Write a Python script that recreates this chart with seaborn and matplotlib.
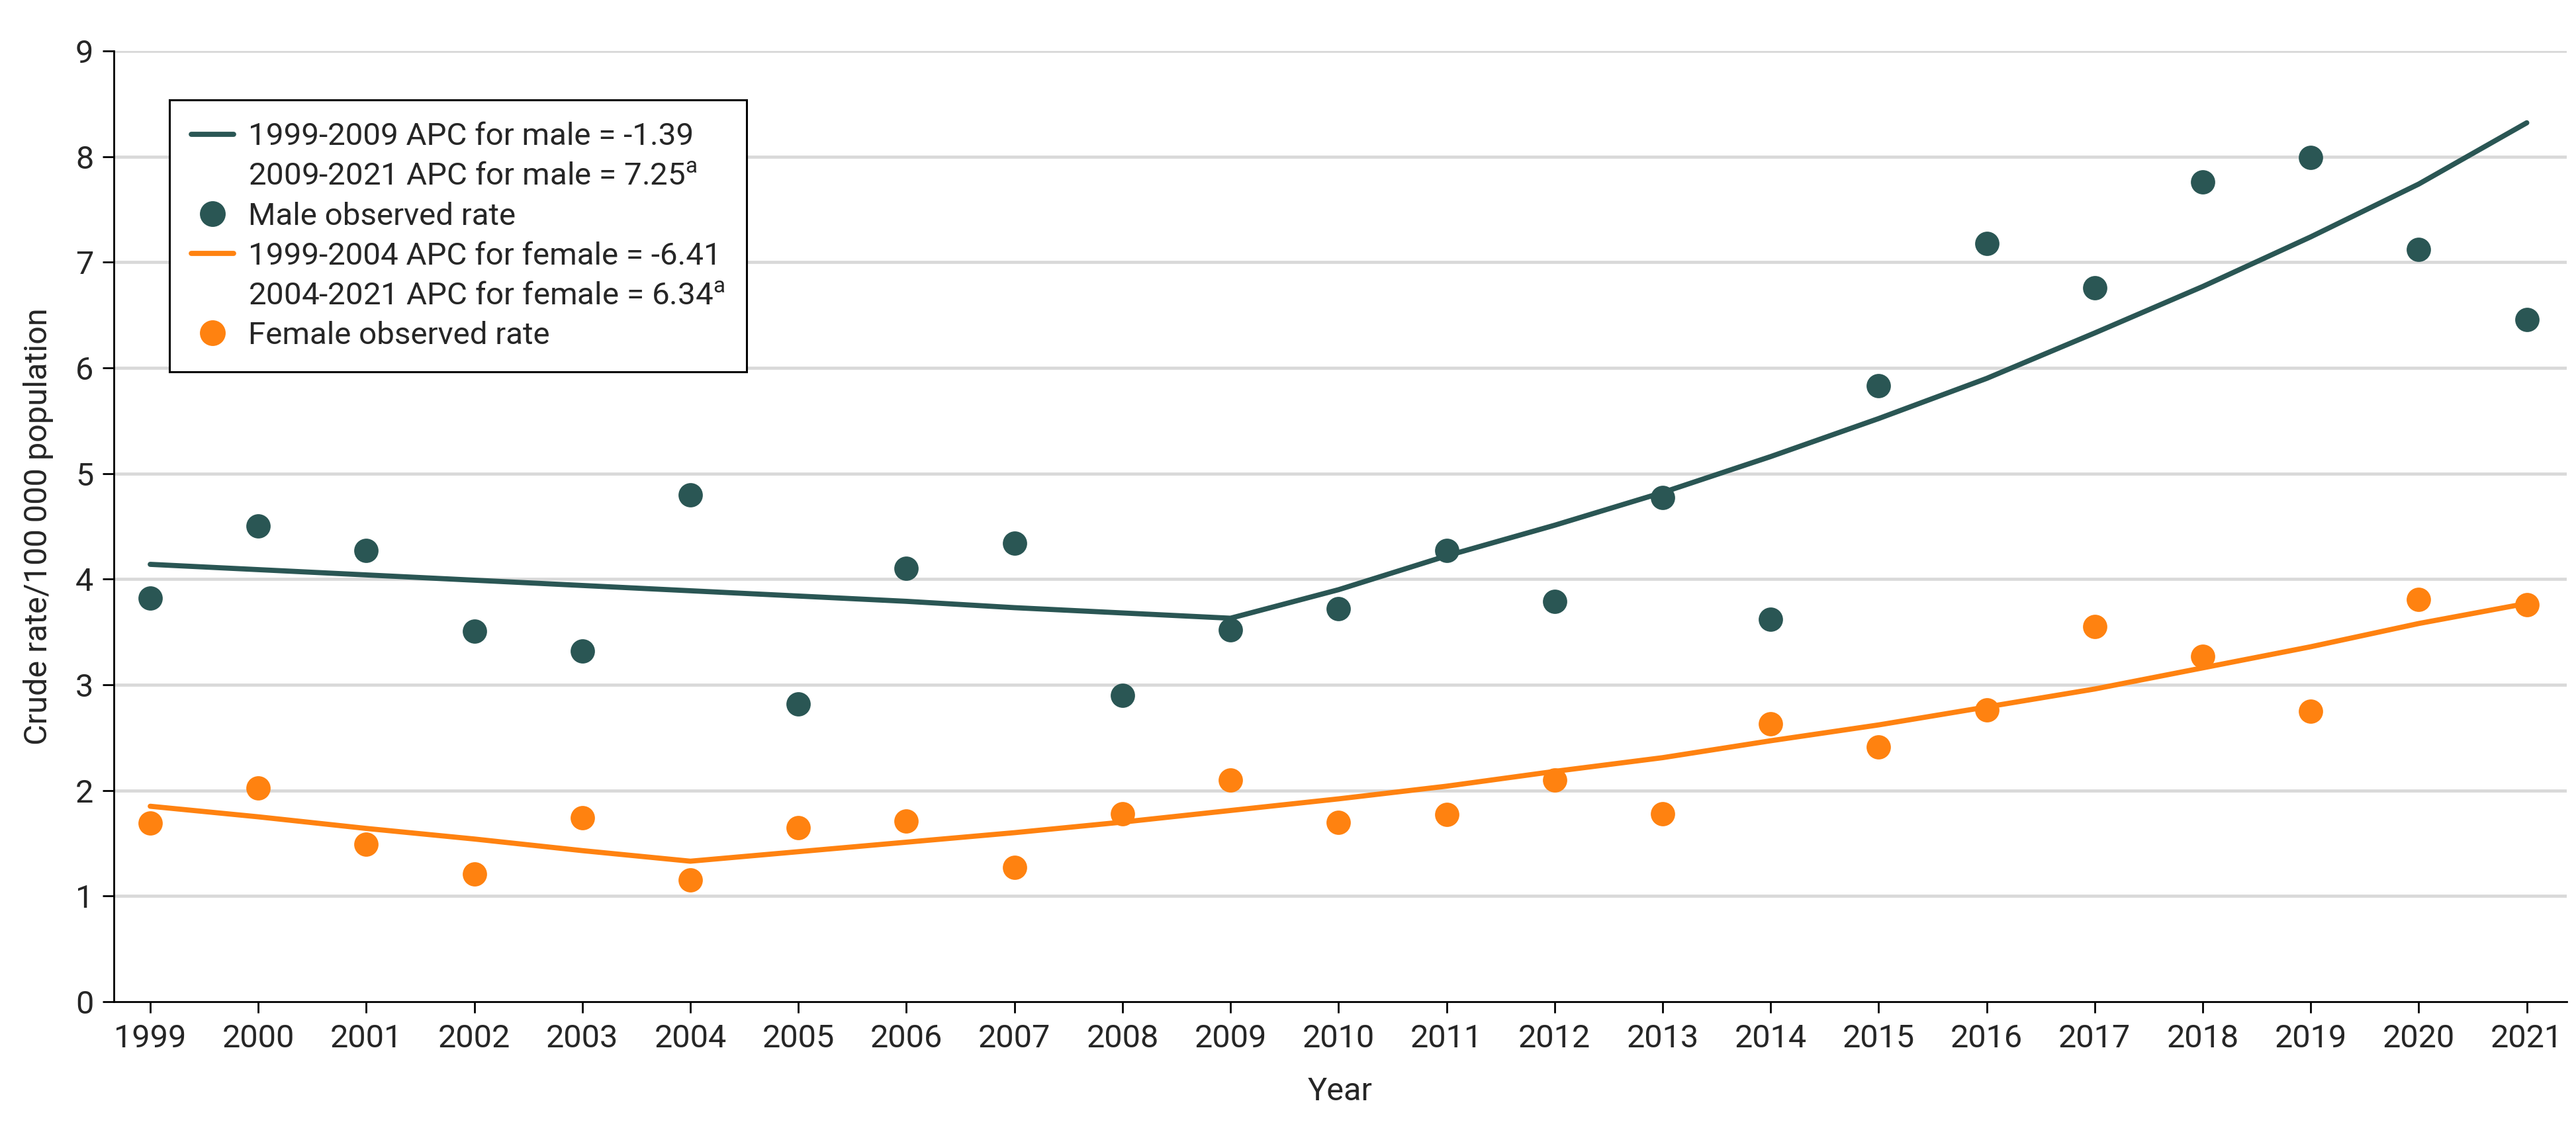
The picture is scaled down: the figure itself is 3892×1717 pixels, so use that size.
import matplotlib
matplotlib.use("Agg")
import matplotlib.pyplot as plt
from matplotlib.lines import Line2D
import seaborn as sns
import pandas as pd

years = list(range(1999, 2022))
male_obs = [3.82, 4.50, 4.27, 3.51, 3.32, 4.80, 2.82, 4.10, 4.34, 2.90, 3.52,
            3.72, 4.27, 3.79, 4.77, 3.62, 5.83, 7.18, 6.76, 7.76, 7.99, 7.12, 6.46]
female_obs = [1.69, 2.02, 1.49, 1.21, 1.74, 1.15, 1.65, 1.71, 1.27, 1.78, 2.10,
              1.70, 1.77, 2.10, 1.78, 2.63, 2.41, 2.76, 3.55, 3.27, 2.75, 3.81, 3.76]
male_fit = [4.14, 4.09, 4.04, 3.99, 3.94, 3.89, 3.84, 3.79, 3.73, 3.68, 3.63,
            3.90, 4.22, 4.51, 4.82, 5.16, 5.52, 5.90, 6.33, 6.77, 7.24, 7.74, 8.32]
female_fit = [1.85, 1.75, 1.64, 1.54, 1.43, 1.33, 1.42, 1.51, 1.60, 1.70, 1.81,
              1.92, 2.04, 2.18, 2.31, 2.47, 2.62, 2.79, 2.96, 3.16, 3.36, 3.58, 3.77]
y_ticks = list(range(0, 10))

legend_labels = [
    "1999-2009 APC for male = -1.39",
    "2009-2021 APC for male = 7.25$^\\mathregular{a}$",
    "Male observed rate",
    "1999-2004 APC for female = -6.41",
    "2004-2021 APC for female = 6.34$^\\mathregular{a}$",
    "Female observed rate",
]

TEAL = "#2A5654"
ORANGE = "#FF8210"
FS = 17.5
LFS = 17.1

sns.set_style("ticks")
plt.rcParams["font.family"] = ["Roboto", "DejaVu Sans"]
plt.rcParams["mathtext.default"] = "regular"

df = pd.DataFrame({"year": years, "male_obs": male_obs, "female_obs": female_obs,
                   "male_fit": male_fit, "female_fit": female_fit})

fig = plt.figure(figsize=(3892 / 200, 1717 / 200), dpi=200)
ax = fig.add_axes([172 / 3892, 1 - 1514 / 1717, (3878 - 172) / 3892, (1514 - 77) / 1717])

for yv in y_ticks[1:]:
    ax.axhline(yv, color="#D9D9D9", lw=1.7, zorder=0)

sns.lineplot(data=df, x="year", y="male_fit", color=TEAL, lw=2.8, ax=ax, zorder=3)
sns.lineplot(data=df, x="year", y="female_fit", color=ORANGE, lw=2.8, ax=ax, zorder=3)
sns.scatterplot(data=df, x="year", y="male_obs", color=TEAL, s=175, linewidth=0, ax=ax, zorder=4)
sns.scatterplot(data=df, x="year", y="female_obs", color=ORANGE, s=175, linewidth=0, ax=ax, zorder=4)

ax.set_xlim(1998.663, 2021.37)
ax.set_ylim(0, 9)
ax.set_xticks(years)
ax.set_xticklabels([str(y) for y in years])
ax.set_yticks(y_ticks)
ax.tick_params(axis="both", labelsize=FS, length=6, width=1.0, color="black", direction="out")
ax.tick_params(axis="x", pad=6)
ax.tick_params(axis="y", pad=5)
for s in ["top", "right"]:
    ax.spines[s].set_visible(False)
for s in ["left", "bottom"]:
    ax.spines[s].set_linewidth(1.0)
    ax.spines[s].set_color("black")

ax.set_xlabel("Year", fontsize=FS, labelpad=12)
ax.set_ylabel("Crude rate/100\u2009000 population", fontsize=FS, labelpad=12)

handles = [
    Line2D([], [], color=TEAL, lw=2.8),
    Line2D([], [], color="none", lw=0),
    Line2D([], [], color=TEAL, marker="o", ls="none", markersize=13),
    Line2D([], [], color=ORANGE, lw=2.8),
    Line2D([], [], color="none", lw=0),
    Line2D([], [], color=ORANGE, marker="o", ls="none", markersize=13),
]
leg = ax.legend(handles, legend_labels, loc="upper left",
                bbox_to_anchor=((256 - 172) / (3878 - 172), (1514 - 151) / (1514 - 77)),
                borderaxespad=0, fontsize=LFS, frameon=True, fancybox=False,
                edgecolor="black", framealpha=1, handlelength=1.35, handletextpad=0.45,
                borderpad=0.7, labelspacing=0.34)
leg.get_frame().set_linewidth(1.1)

fig.savefig("out.png", dpi=200)
